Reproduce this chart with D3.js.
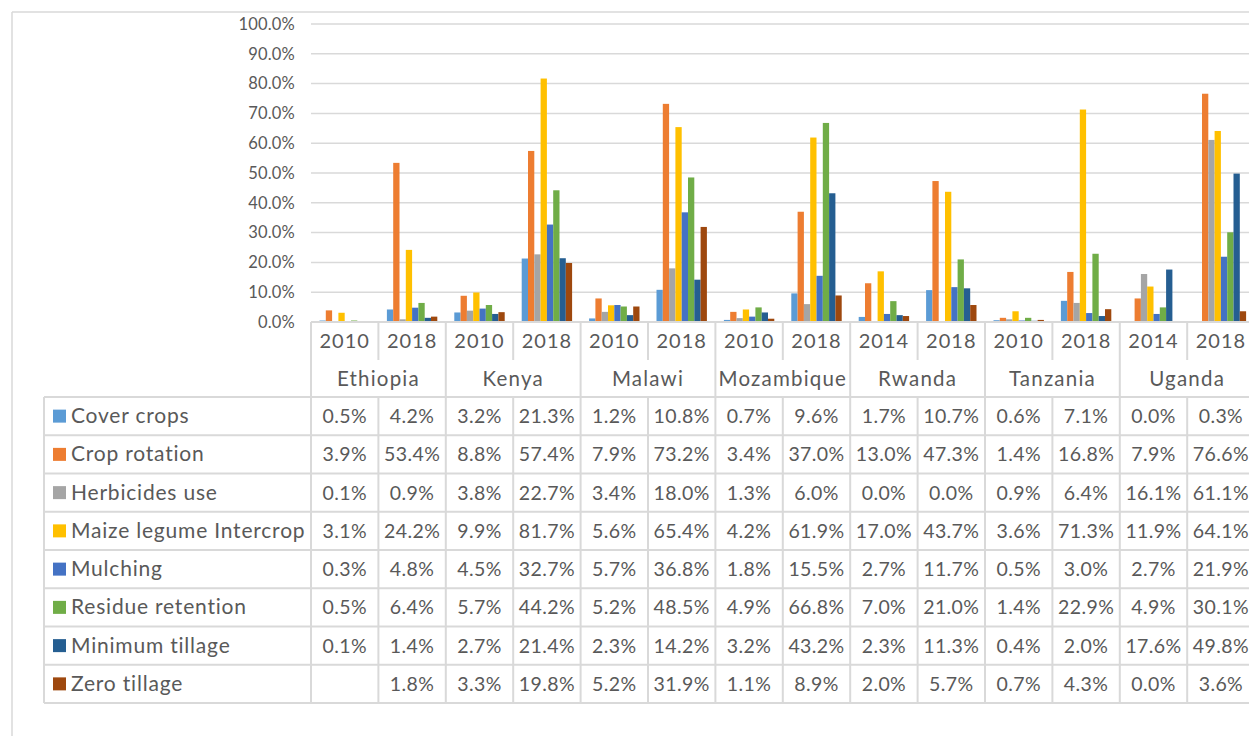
<!DOCTYPE html>
<html>
<head>
<meta charset="utf-8">
<script src="https://cdn.jsdelivr.net/npm/d3@7"></script>
<style>
  body { margin: 0; background: #fff; }
  svg { display: block; font-family: Lato, "Open Sans", sans-serif; }
  text { fill: #595959; }
</style>
</head>
<body>
<svg id="chart" width="1249" height="736"></svg>
<script>
// categories
const countries = ['Ethiopia', 'Kenya', 'Malawi', 'Mozambique', 'Rwanda', 'Tanzania', 'Uganda']
const surveyYears = [['2010','2018'], ['2010','2018'], ['2010','2018'], ['2010','2018'], ['2014','2018'], ['2010','2018'], ['2014','2018']]

// series (percent of households)
const seriesNames = ['Cover crops', 'Crop rotation', 'Herbicides use', 'Maize legume Intercrop', 'Mulching', 'Residue retention', 'Minimum tillage', 'Zero tillage']
const coverCrops      = [0.5, 4.2, 3.2, 21.3, 1.2, 10.8, 0.7, 9.6, 1.7, 10.7, 0.6, 7.1, 0.0, 0.3]
const cropRotation    = [3.9, 53.4, 8.8, 57.4, 7.9, 73.2, 3.4, 37.0, 13.0, 47.3, 1.4, 16.8, 7.9, 76.6]
const herbicidesUse   = [0.1, 0.9, 3.8, 22.7, 3.4, 18.0, 1.3, 6.0, 0.0, 0.0, 0.9, 6.4, 16.1, 61.1]
const maizeLegume     = [3.1, 24.2, 9.9, 81.7, 5.6, 65.4, 4.2, 61.9, 17.0, 43.7, 3.6, 71.3, 11.9, 64.1]
const mulching        = [0.3, 4.8, 4.5, 32.7, 5.7, 36.8, 1.8, 15.5, 2.7, 11.7, 0.5, 3.0, 2.7, 21.9]
const residueRetention= [0.5, 6.4, 5.7, 44.2, 5.2, 48.5, 4.9, 66.8, 7.0, 21.0, 1.4, 22.9, 4.9, 30.1]
const minimumTillage  = [0.1, 1.4, 2.7, 21.4, 2.3, 14.2, 3.2, 43.2, 2.3, 11.3, 0.4, 2.0, 17.6, 49.8]
const zeroTillage     = [null, 1.8, 3.3, 19.8, 5.2, 31.9, 1.1, 8.9, 2.0, 5.7, 0.7, 4.3, 0.0, 3.6]
const seriesValues = [coverCrops, cropRotation, herbicidesUse, maizeLegume, mulching, residueRetention, minimumTillage, zeroTillage]

const yTicks = [0, 0.1, 0.2, 0.3, 0.4, 0.5, 0.6, 0.7, 0.8, 0.9, 1.0]

const colors = ['#5B9BD5', '#ED7D31', '#A5A5A5', '#FFC000', '#4472C4', '#70AD47', '#255E91', '#9E480E']
const lineColor = '#D9D9D9'

const svg = d3.select('#chart')

// columns: one per country/year
let columns = []
countries.forEach((c, i) => {
  surveyYears[i].forEach((y) => { columns.push({country: c, year: y, key: c + '|' + y}) })
})

const plotLeft = 311, colStep = 67.4
const x0 = d3.scaleBand().domain(columns.map(d => d.key)).range([plotLeft, plotLeft + colStep*columns.length]).padding(0)
const x1 = d3.scaleBand().domain(seriesNames).range([8.5, x0.bandwidth() - 8.5]).padding(0)
const y = d3.scaleLinear().domain([0, 1]).range([322, 24])

// frame
svg.append('line').attr('x1', 12).attr('y1', 12).attr('x2', 1249).attr('y2', 12).attr('stroke', lineColor).attr('stroke-width', 1.5)
svg.append('line').attr('x1', 12).attr('y1', 12).attr('x2', 12).attr('y2', 736).attr('stroke', lineColor).attr('stroke-width', 1.5)

// gridlines
svg.append('g').selectAll('line').data(yTicks.slice(1))
  .enter().append('line')
  .attr('x1', plotLeft).attr('x2', 1249)
  .attr('y1', d => y(d)).attr('y2', d => y(d))
  .attr('stroke', lineColor).attr('stroke-width', 1.5)

// y axis labels
const yAxis = svg.append('g')
  .attr('transform', `translate(${plotLeft},0)`)
  .call(d3.axisLeft(y).tickValues(yTicks).tickFormat(d3.format('.1%')).tickSize(0).tickPadding(16))
yAxis.select('.domain').remove()
yAxis.selectAll('text').style('font-size', '16.5px').style('letter-spacing', '0.2px').attr('fill', '#595959').style('font-family', 'Lato, "Open Sans", sans-serif')

// bars
seriesValues.forEach((vals, s) => {
  svg.append('g').selectAll('rect').data(vals.map((v, i) => ({v: v, key: columns[i].key})).filter(d => d.v !== null))
    .enter().append('rect')
    .attr('x', d => x0(d.key) + x1(seriesNames[s]))
    .attr('y', d => y(d.v/100))
    .attr('width', x1.bandwidth())
    .attr('height', d => y(0) - y(d.v/100))
    .attr('fill', colors[s])
})

// ---- data table ----
const tableLeft = 44, tableRight = 1249
const yearTop = 322, countryTop = 360, rowTop = 397, rowH = 38.25
const table = svg.append('g')

// horizontal lines
table.append('line').attr('x1', plotLeft).attr('x2', tableRight).attr('y1', yearTop).attr('y2', yearTop)
  .attr('stroke', lineColor).attr('stroke-width', 2)
table.selectAll('.hline').data(d3.range(seriesNames.length + 1))
  .enter().append('line').attr('class', 'hline')
  .attr('x1', tableLeft).attr('x2', tableRight)
  .attr('y1', i => rowTop + i*rowH).attr('y2', i => rowTop + i*rowH)
  .attr('stroke', lineColor).attr('stroke-width', 2)

// legend column left edge
table.append('line').attr('x1', tableLeft).attr('x2', tableLeft).attr('y1', rowTop).attr('y2', rowTop + rowH*seriesNames.length)
  .attr('stroke', lineColor).attr('stroke-width', 2)

// vertical lines: country boundaries full height, year boundaries broken at country row
const bottom = rowTop + rowH*seriesNames.length
columns.forEach((col, i) => {
  let xx = x0(col.key)
  let firstOfCountry = i === 0 || columns[i-1].country !== col.country
  if (firstOfCountry) {
    table.append('line').attr('x1', xx).attr('x2', xx).attr('y1', yearTop).attr('y2', bottom)
      .attr('stroke', lineColor).attr('stroke-width', 2)
  } else {
    table.append('line').attr('x1', xx).attr('x2', xx).attr('y1', yearTop).attr('y2', countryTop)
      .attr('stroke', lineColor).attr('stroke-width', 2)
    table.append('line').attr('x1', xx).attr('x2', xx).attr('y1', rowTop).attr('y2', bottom)
      .attr('stroke', lineColor).attr('stroke-width', 2)
  }
})

// year labels
table.append('g').selectAll('text').data(columns)
  .enter().append('text')
  .attr('x', d => x0(d.key) + x0.bandwidth()/2)
  .attr('y', yearTop + 26)
  .attr('text-anchor', 'middle')
  .style('font-size', '20px')
  .style('letter-spacing', '1px')
  .text(d => d.year)

// country labels
table.append('g').selectAll('text').data(countries)
  .enter().append('text')
  .attr('x', (d, i) => x0(d + '|' + surveyYears[i][0]) + x0.bandwidth())
  .attr('y', countryTop + 26)
  .attr('text-anchor', 'middle')
  .style('font-size', '20.5px')
  .style('letter-spacing', '1.2px')
  .text(d => d)

// legend keys + names
seriesNames.forEach((name, s) => {
  let top = rowTop + s*rowH
  table.append('rect').attr('x', 53).attr('y', top + rowH/2 - 6.5).attr('width', 13).attr('height', 13).attr('fill', colors[s])
  table.append('text').attr('x', 71).attr('y', top + 26).style('font-size', '21px').style('letter-spacing', '0.8px').text(name)

  // values
  table.append('g').selectAll('text').data(seriesValues[s].map((v, i) => ({v: v, key: columns[i].key})))
    .enter().append('text')
    .attr('x', d => x0(d.key) + x0.bandwidth()/2)
    .attr('y', top + 26)
    .attr('text-anchor', 'middle')
    .style('font-size', '19.5px')
    .style('letter-spacing', '0.4px')
    .text(d => d.v === null ? '' : d.v.toFixed(1) + '%')
})
</script>
</body>
</html>
